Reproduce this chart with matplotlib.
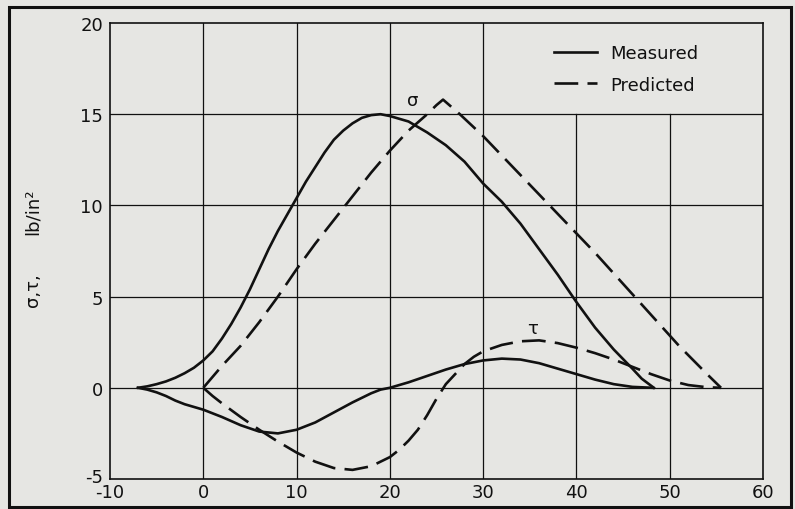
import matplotlib
matplotlib.use('Agg')
import matplotlib.pyplot as plt
from matplotlib.patches import Rectangle
from matplotlib.transforms import offset_copy

plt.rcParams['axes.unicode_minus'] = False

# measured curves (solid)
meas_sigma_x = [-7, -6, -5, -4, -3, -2, -1, 0, 1, 2, 3, 4, 5, 6, 7, 8, 9, 10, 11, 12, 13, 14,
                15, 16, 17, 18, 19, 20, 22, 24, 26, 28, 30, 32, 34, 36, 38, 40, 42, 44, 46, 47, 48.3]
meas_sigma_y = [0, 0.08, 0.2, 0.35, 0.55, 0.8, 1.1, 1.5, 2.0, 2.7, 3.5, 4.4, 5.4, 6.5, 7.6, 8.6,
                9.5, 10.4, 11.3, 12.1, 12.9, 13.6, 14.1, 14.5, 14.8, 14.95, 15.0, 14.9, 14.6, 14.0,
                13.3, 12.4, 11.2, 10.2, 9.0, 7.6, 6.2, 4.7, 3.3, 2.1, 1.05, 0.5, 0]
meas_tau_x = [-7, -6, -5, -4, -3, -2, -1, 0, 2, 4, 6, 8, 10, 12, 14, 16, 18, 19, 20, 22, 24, 26,
              28, 30, 32, 34, 36, 38, 40, 42, 44, 46, 48.2]
meas_tau_y = [0, -0.1, -0.25, -0.45, -0.7, -0.9, -1.05, -1.2, -1.6, -2.05, -2.4, -2.5, -2.3,
              -1.9, -1.35, -0.8, -0.3, -0.1, 0.0, 0.3, 0.65, 1.0, 1.3, 1.5, 1.6, 1.55, 1.35, 1.05,
              0.75, 0.45, 0.2, 0.05, 0]

# predicted curves (dashed)
pred_sigma_x = [0, 2, 4, 6, 8, 10, 12, 14, 16, 18, 20, 22, 24, 25, 25.7, 27.5, 30, 33, 36, 39,
                42, 45, 48, 51, 54, 55.5]
pred_sigma_y = [0, 1.2, 2.3, 3.6, 5.0, 6.5, 7.9, 9.2, 10.5, 11.8, 13.0, 14.1, 15.0, 15.5, 15.8,
                15.0, 13.8, 12.2, 10.6, 9.0, 7.4, 5.7, 4.0, 2.3, 0.75, 0]
pred_tau_x = [0, 1, 2, 4, 6, 8, 10, 12, 14, 16, 18, 20, 21, 22, 23, 24, 25, 26, 27, 28, 29, 30,
              32, 34, 36, 38, 40, 42, 44, 46, 48, 50, 52, 54, 55.5]
pred_tau_y = [0, -0.45, -0.85, -1.6, -2.3, -2.95, -3.55, -4.05, -4.4, -4.5, -4.3, -3.8, -3.4,
              -2.9, -2.3, -1.5, -0.6, 0.2, 0.75, 1.3, 1.7, 2.0, 2.35, 2.55, 2.6, 2.45, 2.2, 1.9,
              1.55, 1.15, 0.75, 0.4, 0.15, 0.03, 0]

x_ticks = [-10, 0, 10, 20, 30, 40, 50, 60]
y_ticks = [-5, 0, 5, 10, 15, 20]

bg = '#e6e6e3'
ink = '#111111'

fig = plt.figure(figsize=(7.95, 5.1), dpi=100, facecolor=bg)
W, H = 795, 510
ax = fig.add_axes([110 / W, 1 - 480 / H, (763 - 110) / W, (480 - 24) / H])
ax.set_facecolor(bg)

# outer frame round the whole figure
fig.patches.append(Rectangle((9 / W, 1 - 508 / H), (791 - 9) / W, (508 - 8) / H,
                             transform=fig.transFigure, fill=False, lw=2.2, ec=ink))

# grid (legend box keeps the top-right free of the 40/50 verticals)
for xv in [0, 10, 20, 30]:
    ax.axvline(xv, color=ink, lw=0.9, zorder=1)
for xv in [40, 50]:
    ax.plot([xv, xv], [-5, 15], color=ink, lw=0.9, zorder=1)
for yv in [0, 5, 10, 15]:
    ax.axhline(yv, color=ink, lw=0.9, zorder=1)

dash = [9, 3.5]
ax.plot(meas_sigma_x, meas_sigma_y, color=ink, lw=1.9, label='Measured', zorder=3)
ax.plot(meas_tau_x, meas_tau_y, color=ink, lw=1.9, zorder=3)
ax.plot(pred_sigma_x, pred_sigma_y, color=ink, lw=1.9, dashes=dash, label='Predicted', zorder=3)
ax.plot(pred_tau_x, pred_tau_y, color=ink, lw=1.9, dashes=dash, zorder=3)

ax.text(22.5, 15.8, 'σ', fontsize=13, ha='center', va='center', color=ink)
ax.text(35.3, 3.3, 'τ', fontsize=13, ha='center', va='center', color=ink)

ax.set_xlim(-10, 60)
ax.set_ylim(-5, 20)
ax.set_xticks(x_ticks)
ax.set_yticks(y_ticks)
ax.tick_params(length=0, labelsize=13, colors=ink)
ax.tick_params(axis='x', pad=3)
ax.tick_params(axis='y', pad=5)
for s in ax.spines.values():
    s.set_linewidth(1.2)
    s.set_color(ink)

# the -5 sits a little above the corner, as in the original
fig.canvas.draw()
lab = ax.get_yticklabels()[0]
lab.set_transform(offset_copy(lab.get_transform(), fig=fig, x=0, y=4, units='dots'))

fig.text(33 / W, 1 - 212 / H, 'lb/in²', rotation=90, fontsize=13, ha='center', va='center', color=ink)
fig.text(33 / W, 1 - 290 / H, 'σ,τ,', rotation=90, fontsize=13, ha='center', va='center', color=ink)

ax.legend(loc='upper left', bbox_to_anchor=(545 / W, 1 - 36 / H), bbox_transform=fig.transFigure,
          frameon=False, fontsize=13, handlelength=2.4, handletextpad=0.7, labelspacing=0.75,
          borderpad=0, labelcolor=ink)

fig.savefig('out.png', dpi=100, facecolor=bg)
